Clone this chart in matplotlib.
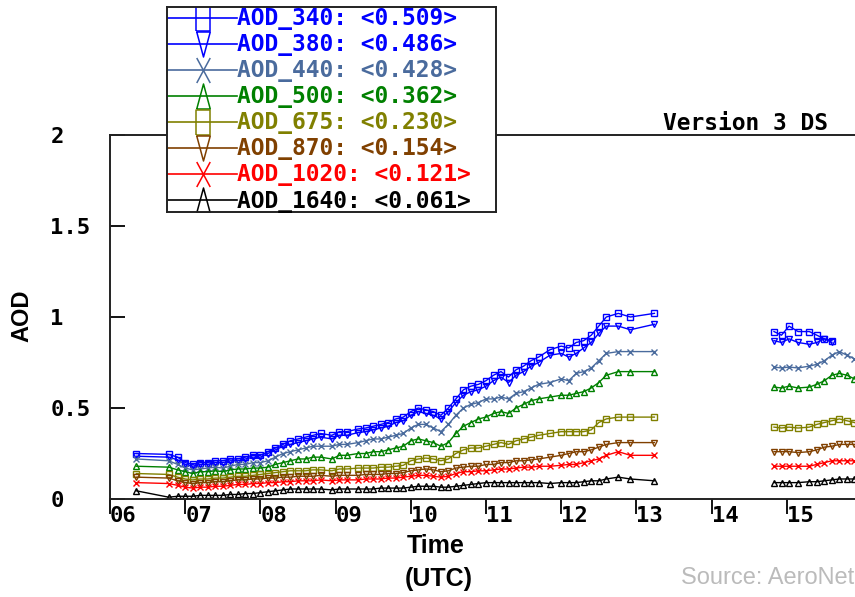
import matplotlib
matplotlib.use("Agg")
import matplotlib.pyplot as plt
import numpy as np
from matplotlib.path import Path

nan = np.nan

# time of each measurement (UTC hours), 14.0 is just a gap marker
times = [6.35, 6.78, 6.9, 7.0, 7.1, 7.2, 7.3, 7.4, 7.5, 7.6,
         7.7, 7.8, 7.9, 8.0, 8.1, 8.2, 8.3, 8.4, 8.5, 8.6,
         8.7, 8.8, 8.95, 9.05, 9.15, 9.3, 9.4, 9.5, 9.6, 9.7,
         9.8, 9.9, 10.0, 10.1, 10.2, 10.3, 10.4, 10.5, 10.6, 10.7,
         10.8, 10.9, 11.0, 11.1, 11.2, 11.3, 11.4, 11.5, 11.6, 11.7,
         11.85, 12.0, 12.1, 12.2, 12.3, 12.4, 12.5, 12.6, 12.76, 12.92,
         13.24, 14.0, 14.83, 14.93, 15.03, 15.15, 15.3, 15.4, 15.5, 15.6, 15.7, 15.8, 15.9]

aod_340 = [0.25, 0.245, 0.23, 0.20, 0.19, 0.20, 0.20, 0.21, 0.21, 0.22,
           0.22, 0.23, 0.24, 0.24, 0.26, 0.28, 0.30, 0.32, 0.33, 0.34,
           0.35, 0.36, 0.35, 0.37, 0.37, 0.385, 0.39, 0.40, 0.41, 0.42,
           0.44, 0.45, 0.48, 0.50, 0.49, 0.48, 0.46, 0.50, 0.55, 0.60,
           0.62, 0.63, 0.65, 0.68, 0.70, 0.67, 0.71, 0.73, 0.76, 0.78,
           0.82, 0.84, 0.83, 0.86, 0.87, 0.90, 0.95, 1.00, 1.02, 1.00,
           1.02, nan, 0.92, 0.90, 0.95, 0.92, 0.92, 0.90, 0.88, 0.87, nan, nan, nan]
aod_380 = [0.235, 0.23, 0.215, 0.19, 0.18, 0.19, 0.19, 0.20, 0.20, 0.21,
           0.21, 0.22, 0.23, 0.23, 0.25, 0.27, 0.29, 0.30, 0.31, 0.32,
           0.33, 0.34, 0.33, 0.35, 0.35, 0.365, 0.37, 0.38, 0.39, 0.40,
           0.42, 0.43, 0.46, 0.48, 0.47, 0.46, 0.44, 0.48, 0.53, 0.57,
           0.59, 0.60, 0.62, 0.65, 0.67, 0.64, 0.68, 0.70, 0.73, 0.75,
           0.79, 0.80, 0.78, 0.80, 0.83, 0.86, 0.91, 0.95, 0.95, 0.93,
           0.96, nan, 0.87, 0.86, 0.88, 0.86, 0.85, 0.86, 0.88, 0.86, nan, nan, nan]
aod_440 = [0.22, 0.21, 0.19, 0.17, 0.16, 0.165, 0.17, 0.175, 0.17, 0.18,
           0.19, 0.19, 0.20, 0.20, 0.21, 0.23, 0.25, 0.26, 0.27, 0.28,
           0.29, 0.29, 0.29, 0.30, 0.30, 0.31, 0.32, 0.33, 0.33, 0.34,
           0.35, 0.36, 0.39, 0.41, 0.41, 0.39, 0.37, 0.41, 0.46, 0.50,
           0.52, 0.53, 0.55, 0.55, 0.56, 0.55, 0.58, 0.59, 0.61, 0.63,
           0.64, 0.66, 0.65, 0.69, 0.70, 0.72, 0.76, 0.80, 0.81, 0.81,
           0.81, nan, 0.725, 0.72, 0.725, 0.72, 0.73, 0.74, 0.76, 0.79, 0.81, 0.79, 0.77]
aod_500 = [0.18, 0.175, 0.16, 0.15, 0.14, 0.15, 0.15, 0.155, 0.15, 0.16,
           0.165, 0.165, 0.17, 0.17, 0.175, 0.19, 0.20, 0.21, 0.22, 0.22,
           0.23, 0.23, 0.22, 0.24, 0.24, 0.25, 0.25, 0.26, 0.26, 0.27,
           0.28, 0.29, 0.32, 0.33, 0.32, 0.31, 0.29, 0.31, 0.36, 0.40,
           0.42, 0.44, 0.45, 0.47, 0.48, 0.47, 0.50, 0.52, 0.54, 0.55,
           0.56, 0.57, 0.57, 0.58, 0.59, 0.61, 0.64, 0.68, 0.70, 0.70,
           0.70, nan, 0.615, 0.61, 0.62, 0.61, 0.615, 0.63, 0.65, 0.68, 0.69, 0.68, 0.66]
aod_675 = [0.14, 0.135, 0.12, 0.11, 0.105, 0.11, 0.11, 0.115, 0.115, 0.12,
           0.125, 0.125, 0.13, 0.135, 0.14, 0.145, 0.15, 0.155, 0.155, 0.155,
           0.16, 0.16, 0.155, 0.165, 0.165, 0.17, 0.17, 0.17, 0.175, 0.175,
           0.18, 0.185, 0.21, 0.22, 0.225, 0.22, 0.21, 0.22, 0.25, 0.27,
           0.28, 0.28, 0.29, 0.30, 0.31, 0.30, 0.32, 0.33, 0.34, 0.35,
           0.36, 0.37, 0.37, 0.37, 0.37, 0.38, 0.42, 0.44, 0.45, 0.45,
           0.45, nan, 0.395, 0.39, 0.395, 0.39, 0.395, 0.41, 0.42, 0.43, 0.44, 0.43, 0.42]
aod_870 = [0.12, 0.115, 0.10, 0.09, 0.085, 0.09, 0.09, 0.095, 0.095, 0.10,
           0.105, 0.105, 0.11, 0.11, 0.115, 0.115, 0.12, 0.12, 0.125, 0.125,
           0.125, 0.13, 0.125, 0.13, 0.13, 0.13, 0.135, 0.135, 0.135, 0.14,
           0.14, 0.145, 0.155, 0.16, 0.165, 0.16, 0.15, 0.155, 0.17, 0.175,
           0.18, 0.18, 0.19, 0.19, 0.20, 0.20, 0.21, 0.21, 0.215, 0.22,
           0.23, 0.24, 0.25, 0.26, 0.26, 0.27, 0.285, 0.30, 0.31, 0.31,
           0.31, nan, 0.26, 0.26, 0.26, 0.255, 0.26, 0.27, 0.285, 0.29, 0.30, 0.30, 0.30]
aod_1020 = [0.09, 0.085, 0.075, 0.065, 0.06, 0.065, 0.065, 0.07, 0.07, 0.075,
            0.08, 0.08, 0.085, 0.085, 0.09, 0.09, 0.095, 0.095, 0.10, 0.10,
            0.10, 0.105, 0.10, 0.105, 0.105, 0.105, 0.11, 0.11, 0.11, 0.115,
            0.115, 0.12, 0.125, 0.13, 0.13, 0.125, 0.12, 0.125, 0.14, 0.15,
            0.15, 0.155, 0.155, 0.16, 0.165, 0.165, 0.17, 0.175, 0.175, 0.18,
            0.18, 0.185, 0.19, 0.19, 0.20, 0.21, 0.22, 0.24, 0.26, 0.24,
            0.24, nan, 0.18, 0.18, 0.18, 0.18, 0.18, 0.19, 0.20, 0.21, 0.21, 0.21, 0.21]
aod_1640 = [0.045, 0.01, 0.015, 0.015, 0.015, 0.02, 0.02, 0.02, 0.02, 0.025,
            0.025, 0.03, 0.03, 0.035, 0.04, 0.045, 0.05, 0.055, 0.055, 0.055,
            0.055, 0.055, 0.05, 0.055, 0.055, 0.055, 0.055, 0.055, 0.06, 0.06,
            0.06, 0.06, 0.065, 0.07, 0.07, 0.07, 0.065, 0.065, 0.07, 0.075,
            0.08, 0.085, 0.09, 0.09, 0.09, 0.09, 0.09, 0.09, 0.09, 0.09,
            0.085, 0.09, 0.09, 0.09, 0.095, 0.10, 0.10, 0.11, 0.12, 0.11,
            0.10, nan, 0.09, 0.09, 0.09, 0.09, 0.095, 0.095, 0.10, 0.105, 0.11, 0.11, 0.11]

series = [aod_340, aod_380, aod_440, aod_500, aod_675, aod_870, aod_1020, aod_1640]
labels = ["AOD_340: <0.509>", "AOD_380: <0.486>", "AOD_440: <0.428>", "AOD_500: <0.362>",
          "AOD_675: <0.230>", "AOD_870: <0.154>", "AOD_1020: <0.121>", "AOD_1640: <0.061>"]
colors = ["#0000ff", "#0000ff", "#4a6b9d", "#008000", "#808000", "#804000", "#ff0000", "#000000"]
markers = ["s", "v", "x", "^", "s", "v", "x", "^"]

hour_ticks = [6, 7, 8, 9, 10, 11, 12, 13, 14, 15]
hour_labels = ["06", "07", "08", "09", "10", "11", "12", "13", "14", "15"]

mono = "DejaVu Sans Mono"
W, H = 855, 597

fig = plt.figure(figsize=(8.55, 5.97), dpi=100)
# axes run off the right edge like the cropped original
ax = fig.add_axes([110 / W, 1 - 499 / H, 767 / W, 364 / H])

for vals, c, m in zip(series, colors, markers):
    ax.plot(times, vals, color=c, marker=m, markersize=5, mfc="none",
            mew=1.0, lw=1.0)

ax.set_xlim(6, 16.2)
ax.set_ylim(0, 2)
ax.set_yticks([0, 0.5, 1, 1.5, 2])
ax.set_yticklabels(["0", "0.5", "1", "1.5", "2"], family=mono, fontweight="bold", fontsize=16)
ax.set_xticks(hour_ticks)
ax.set_xticklabels(hour_labels, family=mono, fontweight="bold", fontsize=16)
for lbl in ax.get_xticklabels():
    lbl.set_ha("left")
for lbl in ax.get_yticklabels():
    lbl.set_ha("left")
ax.tick_params(axis="y", direction="in", length=11, width=1.3, pad=43)
ax.tick_params(axis="x", direction="out", length=11, width=1.3, pad=-6)
for s in ax.spines.values():
    s.set_linewidth(1.4)
    s.set_color("#222222")

fig.text(828 / W, 1 - 123 / H, "Version 3 DS", family=mono, fontweight="bold",
         fontsize=16.5, ha="right", va="center")

fig.text(22 / W, 1 - 316 / H, "AOD", rotation=90, fontweight="bold", fontsize=17,
         ha="center", va="center", family="Liberation Sans")
fig.text(436 / W, 1 - 546 / H, "Time", fontweight="bold", fontsize=18,
         ha="center", va="center", family="Liberation Sans")
fig.text(439 / W, 1 - 579 / H, "(UTC)", fontweight="bold", fontsize=18,
         ha="center", va="center", family="Liberation Sans")
fig.text(854 / W, 1 - 578 / H, "Source: AeroNet", color="#bbbbbb", fontsize=17,
         ha="right", va="center", family="Liberation Sans")

# legend box drawn in its own pixel-unit axes
lx0, ly0, lx1, ly1 = 167, 7, 496, 212
lax = fig.add_axes([lx0 / W, 1 - ly1 / H, (lx1 - lx0) / W, (ly1 - ly0) / H])
lax.set_xlim(0, lx1 - lx0)
lax.set_ylim(ly1 - ly0, 0)
lax.set_xticks([])
lax.set_yticks([])
for s in lax.spines.values():
    s.set_linewidth(1.4)
    s.set_color("#222222")

hw = 0.27
tall = {
    "s": Path([(-hw, -0.5), (hw, -0.5), (hw, 0.5), (-hw, 0.5), (-hw, -0.5)]),
    "v": Path([(-hw, 0.5), (hw, 0.5), (0, -0.5), (-hw, 0.5)]),
    "^": Path([(-hw, -0.5), (hw, -0.5), (0, 0.5), (-hw, -0.5)]),
    "x": Path([(-hw, -0.5), (hw, 0.5), (-hw, 0.5), (hw, -0.5)],
              [Path.MOVETO, Path.LINETO, Path.MOVETO, Path.LINETO]),
}
for i, (lab, c, m) in enumerate(zip(labels, colors, markers)):
    y = 11 + 26 * i
    lax.plot([0, 70], [y, y], color=c, lw=1.2)
    lax.plot([36], [y], color=c, marker=tall[m], markersize=18, mfc="none", mew=1.1)
    lax.text(70, y + 1, lab, color=c, family=mono, fontweight="bold", fontsize=16.5,
             ha="left", va="center")

fig.savefig("out.png", dpi=100)
